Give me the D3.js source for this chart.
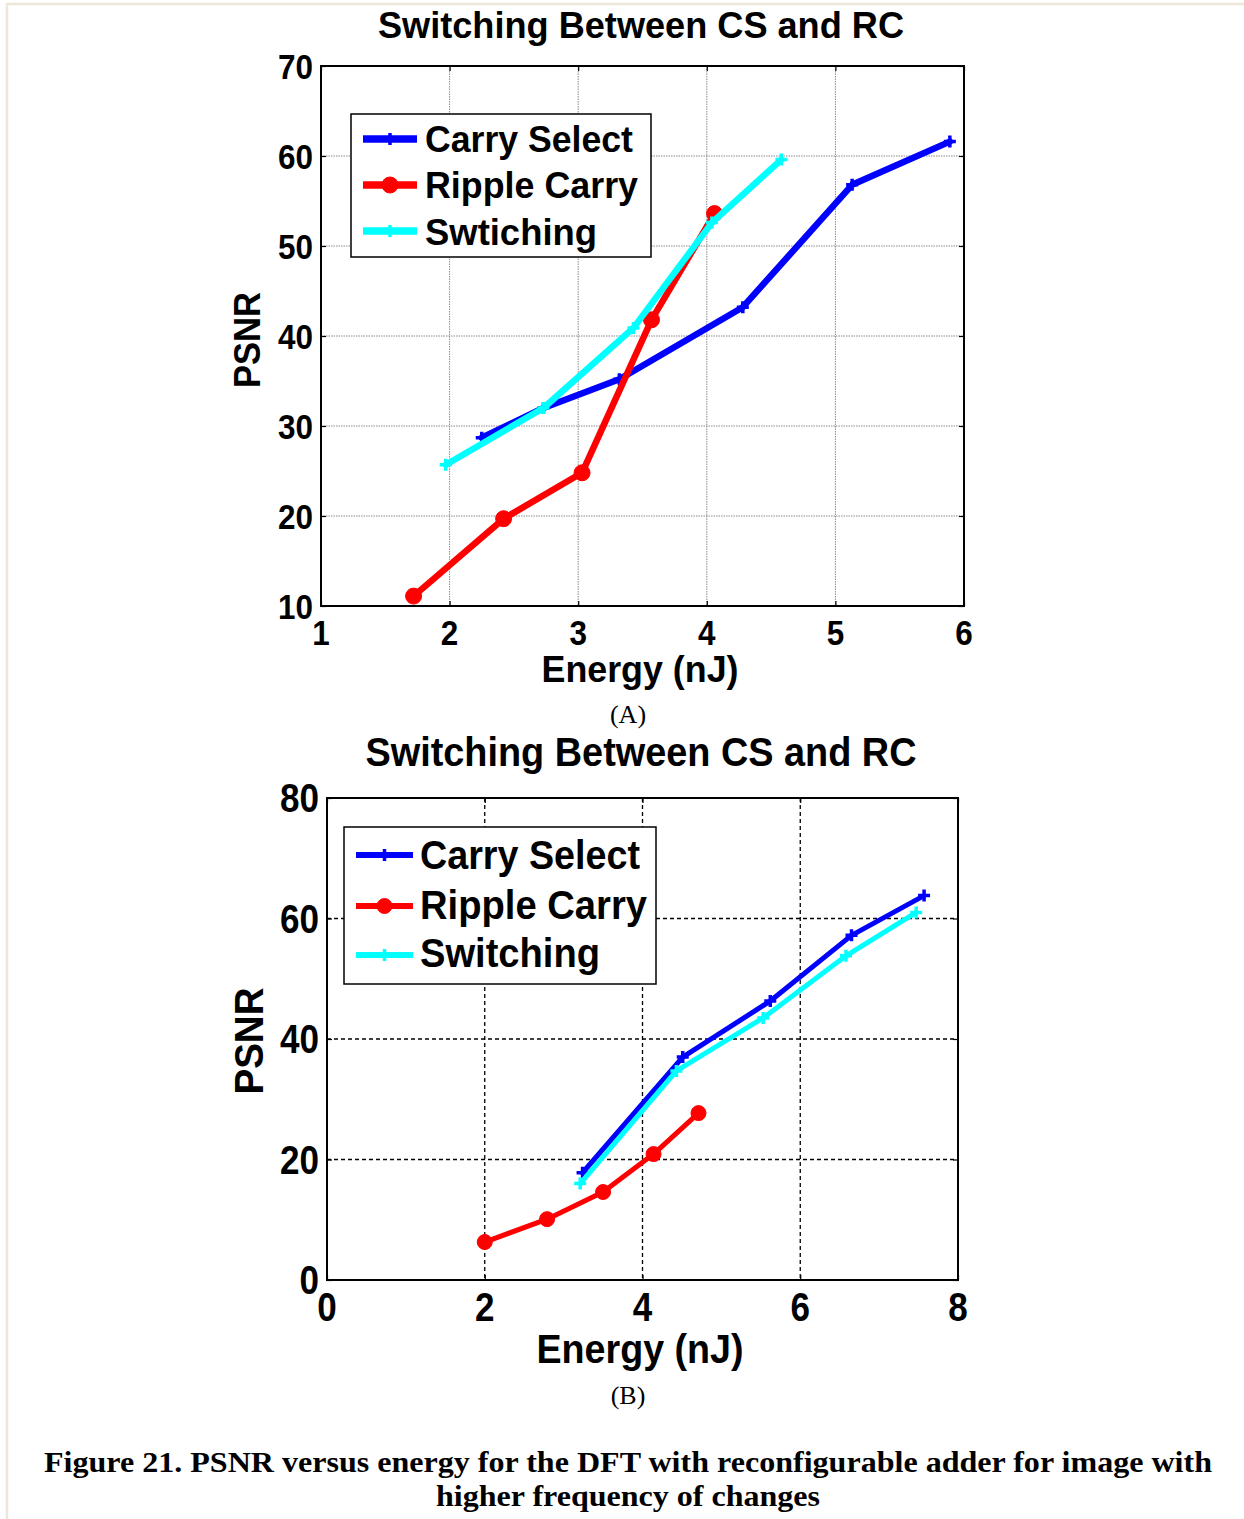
<!DOCTYPE html>
<html><head><meta charset="utf-8">
<script src="https://cdn.jsdelivr.net/npm/d3@7"></script>
<style>html,body{margin:0;padding:0;background:#fff;}svg{display:block;}</style>
</head><body>
<script>
// ---- Data (A) ----
const seriesNames = ["Carry Select", "Ripple Carry", "Swtiching"];
const seriesNamesB = ["Carry Select", "Ripple Carry", "Switching"];
const colors = ["#0000ff", "#ff0000", "#00ffff"];
const markers = ["plus", "circle", "plus"];

const aCarrySelectX = [2.25, 2.73, 3.32, 4.28, 5.13, 5.89];
const aCarrySelectY = [28.7, 32.0, 35.2, 43.2, 56.8, 61.6];
const aRippleX = [1.72, 2.42, 3.03, 3.57, 4.06];
const aRippleY = [11.1, 19.7, 24.8, 41.8, 53.6];
const aSwitchX = [1.97, 2.73, 3.43, 4.04, 4.58];
const aSwitchY = [25.7, 32.0, 40.9, 52.6, 59.6];
const aXTicks = [1, 2, 3, 4, 5, 6];
const aYTicks = [10, 20, 30, 40, 50, 60, 70];

// ---- Data (B) ----
const bCarrySelectX = [3.24, 4.51, 5.62, 6.65, 7.57];
const bCarrySelectY = [17.8, 37.0, 46.3, 57.2, 63.8];
const bRippleX = [2.0, 2.79, 3.50, 4.14, 4.71];
const bRippleY = [6.3, 10.1, 14.6, 20.9, 27.7];
const bSwitchX = [3.21, 4.43, 5.53, 6.58, 7.47];
const bSwitchY = [16.0, 34.7, 43.5, 53.8, 61.0];
const bXTicks = [0, 2, 4, 6, 8];
const bYTicks = [0, 20, 40, 60, 80];

const title = "Switching Between CS and RC";
const xLabel = "Energy (nJ)";
const yLabel = "PSNR";
const caption1 = "Figure 21. PSNR versus energy for the DFT with reconfigurable adder for image with";
const caption2 = "higher frequency of changes";

const W = 1244, H = 1519;
const svg = d3.select("body").append("svg").attr("width", W).attr("height", H);
svg.append("rect").attr("width", W).attr("height", H).attr("fill", "#fff");
// page frame
svg.append("line").attr("x1", 6).attr("x2", W).attr("y1", 4).attr("y2", 4).attr("stroke", "#ece7da").attr("stroke-width", 2.5);
svg.append("line").attr("x1", 7).attr("x2", 7).attr("y1", 4).attr("y2", H).attr("stroke", "#ece7da").attr("stroke-width", 2.5);

const sans = "'Liberation Sans', Arial, sans-serif";
const serif = "'Liberation Serif', 'Times New Roman', serif";

function zip(xs, ys) { return xs.map((x, i) => ({x, y: ys[i]})); }

function drawChart(cfg) {
  const x = d3.scaleLinear().domain(cfg.xDomain).range([cfg.left, cfg.right]);
  const y = d3.scaleLinear().domain(cfg.yDomain).range([cfg.bottom, cfg.top]);
  const g = svg.append("g");

  // grid
  const grid = g.append("g");
  cfg.xTicks.slice(1, -1).forEach(t => {
    grid.append("line").attr("x1", x(t)).attr("x2", x(t)).attr("y1", cfg.top).attr("y2", cfg.bottom)
      .attr("stroke", cfg.gridColor).attr("stroke-width", cfg.gridWidth).attr("stroke-dasharray", cfg.gridDash);
  });
  cfg.yTicks.slice(1, -1).forEach(t => {
    grid.append("line").attr("x1", cfg.left).attr("x2", cfg.right).attr("y1", y(t)).attr("y2", y(t))
      .attr("stroke", cfg.gridColor).attr("stroke-width", cfg.gridWidth).attr("stroke-dasharray", cfg.gridDash);
  });

  // axes via d3
  const axB = d3.axisBottom(x).tickValues(cfg.xTicks).tickSize(-cfg.tickLen).tickFormat("");
  const axT = d3.axisTop(x).tickValues(cfg.xTicks).tickSize(-cfg.tickLen).tickFormat("");
  const axL = d3.axisLeft(y).tickValues(cfg.yTicks).tickSize(-cfg.tickLen).tickFormat("");
  const axR = d3.axisRight(y).tickValues(cfg.yTicks).tickSize(-cfg.tickLen).tickFormat("");
  [[axB, `translate(0,${cfg.bottom})`], [axT, `translate(0,${cfg.top})`],
   [axL, `translate(${cfg.left},0)`], [axR, `translate(${cfg.right},0)`]].forEach(([ax, tr]) => {
    const a = g.append("g").attr("transform", tr).call(ax);
    a.select(".domain").remove();
    a.selectAll("line").attr("stroke", "#000").attr("stroke-width", 1.2);
  });
  g.append("rect").attr("x", cfg.left).attr("y", cfg.top).attr("width", cfg.right - cfg.left)
    .attr("height", cfg.bottom - cfg.top).attr("fill", "none").attr("stroke", "#000").attr("stroke-width", 2);

  // tick labels
  cfg.xTicks.forEach(t => {
    g.append("text").attr("x", x(t)).attr("y", cfg.xTickBase).attr("text-anchor", "middle")
      .attr("font-family", sans).attr("font-weight", "bold").attr("font-size", cfg.tickFont)
      .attr("textLength", String(t).length * cfg.digitW).attr("lengthAdjust", "spacingAndGlyphs").text(t);
  });
  cfg.yTicks.forEach(t => {
    g.append("text").attr("x", cfg.yTickRight).attr("y", y(t) + cfg.yTickOff).attr("text-anchor", "end")
      .attr("font-family", sans).attr("font-weight", "bold").attr("font-size", cfg.tickFont)
      .attr("textLength", String(t).length * cfg.digitW).attr("lengthAdjust", "spacingAndGlyphs").text(t);
  });

  // series
  const line = d3.line().x(d => x(d.x)).y(d => y(d.y));
  cfg.series.forEach((s, i) => {
    const pts = zip(s.xs, s.ys);
    g.append("path").datum(pts).attr("d", line).attr("fill", "none").attr("stroke", colors[i])
      .attr("stroke-width", cfg.lineWidth).attr("stroke-linejoin", "round").attr("stroke-linecap", "round");
    pts.forEach(p => drawMarker(g, markers[i], x(p.x), y(p.y), colors[i], cfg));
  });

  // legend
  const L = cfg.legend;
  g.append("rect").attr("x", L.x0).attr("y", L.y0).attr("width", L.x1 - L.x0).attr("height", L.y1 - L.y0)
    .attr("fill", "#fff").attr("stroke", "#000").attr("stroke-width", 1.5);
  cfg.names.forEach((n, i) => {
    const ly = L.lineY[i];
    g.append("line").attr("x1", L.lx0).attr("x2", L.lx1).attr("y1", ly).attr("y2", ly)
      .attr("stroke", colors[i]).attr("stroke-width", cfg.lineWidth + 1);
    drawMarker(g, markers[i], (L.lx0 + L.lx1) / 2, ly, colors[i], cfg);
    g.append("text").attr("x", L.tx).attr("y", L.textY[i]).attr("font-family", sans).attr("font-weight", "bold")
      .attr("font-size", L.font).attr("textLength", L.textLen[i]).attr("lengthAdjust", "spacingAndGlyphs").text(n);
  });

  // titles
  g.append("text").attr("x", cfg.titleX).attr("y", cfg.titleY).attr("text-anchor", "middle")
    .attr("font-family", sans).attr("font-weight", "bold").attr("font-size", cfg.titleFont)
    .attr("textLength", cfg.titleLen).attr("lengthAdjust", "spacingAndGlyphs").text(title);
  g.append("text").attr("x", cfg.xLabelX).attr("y", cfg.xLabelY).attr("text-anchor", "middle")
    .attr("font-family", sans).attr("font-weight", "bold").attr("font-size", cfg.labelFont)
    .attr("textLength", cfg.xLabelLen).attr("lengthAdjust", "spacingAndGlyphs").text(xLabel);
  g.append("text").attr("transform", `translate(${cfg.yLabelX},${cfg.yLabelY}) rotate(-90)`).attr("text-anchor", "middle")
    .attr("font-family", sans).attr("font-weight", "bold").attr("font-size", cfg.labelFont)
    .attr("textLength", cfg.yLabelLen).attr("lengthAdjust", "spacingAndGlyphs").text(yLabel);
  g.append("text").attr("x", 628).attr("y", cfg.subY).attr("text-anchor", "middle")
    .attr("font-family", serif).attr("font-size", 26).text(cfg.sub);
}

function drawMarker(g, type, cx, cy, color, cfg) {
  if (type === "circle") {
    g.append("circle").attr("cx", cx).attr("cy", cy).attr("r", cfg.circleR).attr("fill", color).attr("stroke", color).attr("stroke-width", 1);
  } else {
    const s = cfg.plusSize;
    g.append("path").attr("d", `M${cx - s},${cy}L${cx + s},${cy}M${cx},${cy - s}L${cx},${cy + s}`)
      .attr("stroke", color).attr("stroke-width", 3.5).attr("fill", "none");
  }
}

drawChart({
  xDomain: [1, 6], yDomain: [10, 70], left: 321, right: 964, top: 66, bottom: 606,
  xTicks: aXTicks, yTicks: aYTicks, tickLen: 5,
  gridColor: "#8a8a8a", gridWidth: 1, gridDash: "1.5,1",
  tickFont: 35, digitW: 17.5, xTickBase: 645, yTickRight: 313, yTickOff: 13,
  lineWidth: 6.5, circleR: 8, plusSize: 6,
  names: seriesNames,
  series: [{xs: aCarrySelectX, ys: aCarrySelectY}, {xs: aRippleX, ys: aRippleY}, {xs: aSwitchX, ys: aSwitchY}],
  legend: {x0: 351, x1: 651, y0: 114, y1: 257, lx0: 363, lx1: 417, lineY: [139, 185, 231],
    tx: 425, textY: [152, 198, 245], font: 36, textLen: [208, 213, 172]},
  titleX: 641, titleY: 38, titleFont: 36, titleLen: 526,
  labelFont: 36, xLabelX: 640, xLabelY: 682, xLabelLen: 197,
  yLabelX: 260, yLabelY: 340, yLabelLen: 96,
  sub: "(A)", subY: 723
});

drawChart({
  xDomain: [0, 8], yDomain: [0, 80], left: 327, right: 958, top: 798, bottom: 1280,
  xTicks: bXTicks, yTicks: bYTicks, tickLen: 5,
  gridColor: "#000", gridWidth: 1.3, gridDash: "4,3",
  tickFont: 41, digitW: 19.5, xTickBase: 1321, yTickRight: 319, yTickOff: 14,
  lineWidth: 5, circleR: 7.5, plusSize: 6,
  names: seriesNamesB,
  series: [{xs: bCarrySelectX, ys: bCarrySelectY}, {xs: bRippleX, ys: bRippleY}, {xs: bSwitchX, ys: bSwitchY}],
  legend: {x0: 344, x1: 656, y0: 827, y1: 984, lx0: 356, lx1: 413, lineY: [855, 906, 955],
    tx: 420, textY: [869, 919, 967], font: 40, textLen: [220, 227, 180]},
  titleX: 641, titleY: 766, titleFont: 40, titleLen: 551,
  labelFont: 41, xLabelX: 640, xLabelY: 1363, xLabelLen: 207,
  yLabelX: 263, yLabelY: 1041, yLabelLen: 107,
  sub: "(B)", subY: 1404
});

// caption
svg.append("text").attr("x", 628).attr("y", 1472).attr("text-anchor", "middle").attr("font-family", serif)
  .attr("font-weight", "bold").attr("font-size", 30).attr("textLength", 1168).attr("lengthAdjust", "spacingAndGlyphs").text(caption1);
svg.append("text").attr("x", 628).attr("y", 1506).attr("text-anchor", "middle").attr("font-family", serif)
  .attr("font-weight", "bold").attr("font-size", 30).attr("textLength", 384).attr("lengthAdjust", "spacingAndGlyphs").text(caption2);
</script>
</body></html>
